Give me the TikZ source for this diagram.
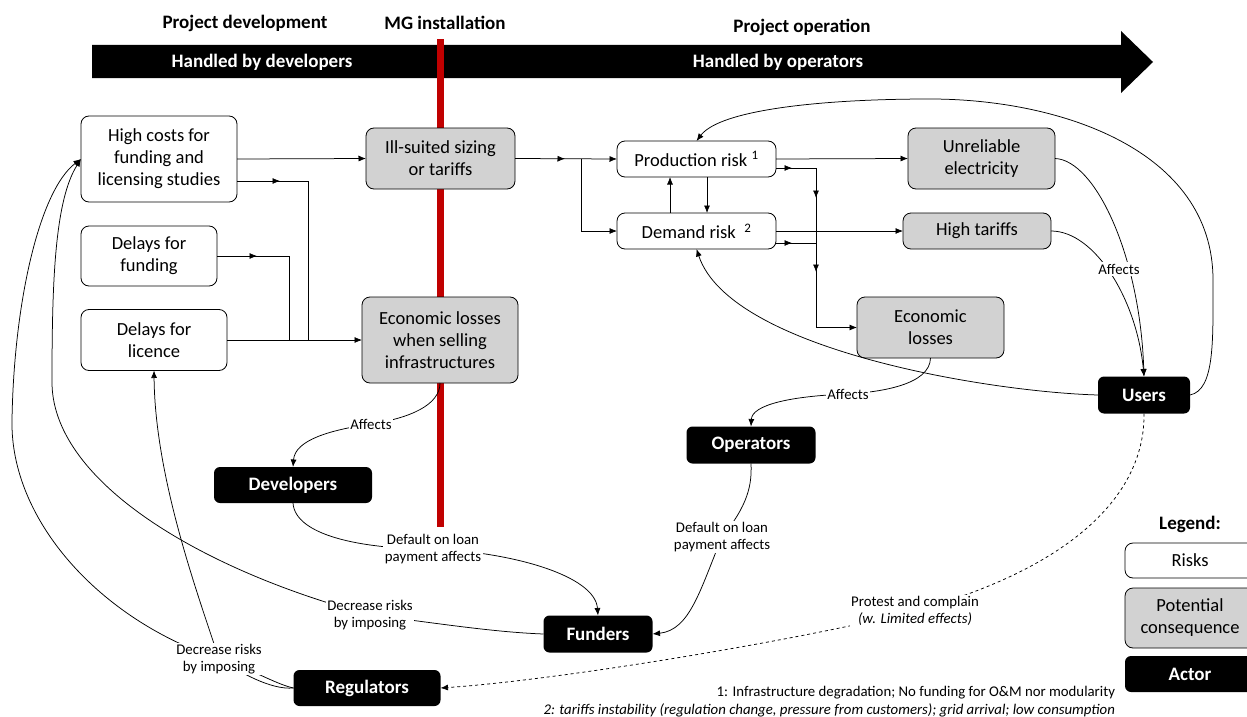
\documentclass[tikz,border=0pt]{standalone}
\usepackage{fontspec}
\setmainfont{Carlito}
\usetikzlibrary{arrows.meta,decorations.markings}
\definecolor{mgred}{RGB}{192,0,0}
\definecolor{consgray}{RGB}{210,210,210}
\begin{document}
\begin{tikzpicture}[x=1pt,y=-1pt,
  every node/.style={inner sep=0pt, outer sep=0pt},
  boxtext/.style={font=\fontsize{18.5}{22}\selectfont, align=center},
  riskbox/.style={boxtext, draw=black, line width=0.8pt, rounded corners=8pt, fill=white},
  consbox/.style={riskbox, fill=consgray},
  actorbox/.style={fill=black, text=white, rounded corners=6pt, font=\bfseries\fontsize{19}{22}\selectfont, align=center},
  lbl/.style={font=\fontsize{14.8}{17}\selectfont, align=center, fill=white, inner sep=1.5pt},
  hdr/.style={font=\bfseries\fontsize{19}{22}\selectfont},
  conn/.style={line width=0.75pt},
  tip/.style={-{Latex[length=7.5pt,width=6pt]}},
  midtip/.style={postaction={decorate}, decoration={markings, mark=at position #1 with {\arrow{Latex[length=7.5pt,width=6pt]}}}}
]
\useasboundingbox (0,0) rectangle (1247,717);

% header band
\fill[black] (92,45) -- (1121,45) -- (1121,31) -- (1153,62) -- (1121,93) -- (1121,78) -- (92,78) -- cycle;
\node[hdr] (t1) at (245,23) {Project development};
\node[hdr] (t2) at (445,23) {MG installation};
\node[hdr] (t3) at (802,27) {Project operation};
\node[hdr, text=white] (b1) at (262,62) {Handled by developers};
\node[hdr, text=white] (b2) at (778,62) {Handled by operators};

% red milestone bar
\fill[mgred] (437,39) rectangle (444,527);

% risk boxes
\node[riskbox, minimum width=156pt, minimum height=86pt] (highcosts) at (159,159) {High costs for\\funding and\\licensing studies};
\node[riskbox, minimum width=136pt, minimum height=60pt] (fundelay) at (149,256) {Delays for\\funding};
\node[riskbox, minimum width=146pt, minimum height=61pt] (licence) at (154,340) {Delays for\\licence};
\node[riskbox, minimum width=159pt, minimum height=36pt] (production) at (696.5,159) {Production risk~\textsuperscript{1}};
\node[riskbox, minimum width=159pt, minimum height=36pt] (demand) at (696.5,231) {Demand risk~~\textsuperscript{2}};

% consequence boxes
\node[consbox, minimum width=149pt, minimum height=61pt] (illsuited) at (440.5,158.5) {Ill-suited sizing\\or tariffs};
\node[consbox, minimum width=156pt, minimum height=86pt] (econsell) at (440,340) {Economic losses\\when selling\\infrastructures};
\node[consbox, minimum width=147pt, minimum height=61pt] (unreliable) at (981.5,158.5) {Unreliable\\electricity};
\node[consbox, minimum width=148pt, minimum height=36pt] (hightariffs) at (977,231) {High tariffs};
\node[consbox, minimum width=147pt, minimum height=61pt] (econloss) at (930.5,327.5) {Economic\\losses};

% actors
\node[actorbox, minimum width=158pt, minimum height=36pt] (developers) at (293,485) {Developers};
\node[actorbox, minimum width=129pt, minimum height=37pt] (operators) at (751,445) {Operators};
\node[actorbox, minimum width=109pt, minimum height=37pt] (funders) at (598,634) {Funders};
\node[actorbox, minimum width=147pt, minimum height=36pt] (regulators) at (367,688) {Regulators};
\node[actorbox, minimum width=92pt, minimum height=37pt] (users) at (1144,395) {Users};

% label anchor coordinates
\coordinate (aff1) at (371,424);
\coordinate (aff2) at (848,394);
\coordinate (aff3) at (1119,269);
\coordinate (dflt1) at (433,549);
\coordinate (dflt2) at (722,537);
\coordinate (decr1) at (370,615);
\coordinate (decr2) at (219,659);
\coordinate (protest) at (915,611);

% orthogonal connectors (left part)
\draw[conn, tip] (highcosts.east) -- (illsuited.west);
\draw[conn, midtip=43pt] ([yshift=-22pt]highcosts.east) -- (308,181) -- (308,340);
\draw[conn, midtip=40pt] (fundelay.east) -- (289,256) -- (289,340);
\draw[conn, tip] (licence.east) -- (econsell.west);

% middle part
\draw[conn, tip, midtip=50pt] (illsuited.east) -- (production.west);
\draw[conn, tip] (581,159) |- (demand.west);
\draw[conn, tip] ([xshift=-26.5pt]demand.north) -- ([xshift=-26.5pt]production.south);
\draw[conn, tip] ([xshift=10.5pt]production.south) -- ([xshift=10.5pt]demand.north);
\draw[conn, tip] (production.east) -- (unreliable.west);
\draw[conn, tip] (demand.east) -- (hightariffs.west);
\draw[conn, tip, postaction={decorate}, decoration={markings,
   mark=at position 16pt with {\arrow{Latex[length=7.5pt,width=6pt]}},
   mark=at position 70pt with {\arrow{Latex[length=7.5pt,width=6pt]}},
   mark=at position 144pt with {\arrow{Latex[length=7.5pt,width=6pt]}}}]
   ([yshift=-9pt]production.east) -- (816,168) -- (816,327.5) -- (econloss.west);
\draw[conn, midtip=16pt] ([yshift=-12pt]demand.east) -- (816,243);

% curved connectors
\draw[conn, tip] (unreliable.east) .. controls (1095,160) and (1140,255) .. (users.north);
\draw[conn, tip] (hightariffs.east) .. controls (1095,231) and (1137,300) .. (users.north);
\draw[conn, tip] (econsell.south) .. controls (440,405) and (410,418) .. (aff1) .. controls (330,430) and (295,440) .. (developers.north);
\draw[conn, tip] (econloss.south) .. controls (930,385) and (880,392) .. (aff2) .. controls (790,396) and (752,405) .. (operators.north);
\draw[conn, tip] (users.west) .. controls (990,392) and (730,350) .. (demand.south);
\draw[conn, tip] (users.east) .. controls (1215,390) and (1213,340) .. (1213,280) .. controls (1213,150) and (1060,99) .. (930,99) .. controls (820,99) and (720,110) .. (production.north);
\draw[conn, tip] (developers.south) .. controls (295,535) and (360,549) .. (dflt1) .. controls (510,552) and (595,575) .. (funders.north);
\draw[conn, tip] (operators.south) .. controls (752,485) and (748,505) .. (dflt2) .. controls (700,590) and (690,630) .. (funders.east);
\draw[conn, tip] (funders.west) .. controls (490,632) and (430,622) .. (decr1) .. controls (200,570) and (50,480) .. (52,380) .. controls (52,280) and (55,200) .. (highcosts.west);
\draw[conn, tip] (regulators.west) .. controls (270,690) and (240,672) .. (decr2) .. controls (100,620) and (10,520) .. (12,420) .. controls (14,300) and (40,190) .. (highcosts.west);
\draw[conn, tip] (regulators.west) .. controls (275,684) and (250,668) .. (decr2) .. controls (200,600) and (155,480) .. (licence.south);
\draw[conn, tip, dashed] (users.south) .. controls (1145,490) and (1080,565) .. (protest) .. controls (800,640) and (560,680) .. (regulators.east);

% labels on connectors
\node[lbl] (aff1lbl) at (aff1) {Affects};
\node[lbl] (aff2lbl) at (aff2) {Affects};
\node[lbl] (aff3lbl) at (aff3) {Affects};
\node[lbl] (dflt1lbl) at (dflt1) {Default on loan\\payment affects};
\node[lbl] (dflt2lbl) at (dflt2) {Default on loan\\payment affects};
\node[lbl] (decr1lbl) at (decr1) {Decrease risks\\by imposing};
\node[lbl] (decr2lbl) at (decr2) {Decrease risks\\by imposing};
\node[lbl] (protestlbl) at (protest) {Protest and complain\\\textit{(w. Limited effects)}};

% legend
\node[font=\bfseries\fontsize{19}{22}\selectfont] (legtitle) at (1190,524) {Legend:};
\node[riskbox, minimum width=130pt, minimum height=35pt] (legrisk) at (1190,560.5) {Risks};
\node[consbox, minimum width=130pt, minimum height=60pt] (legcons) at (1190,618) {Potential\\consequence};
\node[actorbox, minimum width=130pt, minimum height=36pt] (legactor) at (1190,674) {Actor};

% footnotes
\node[anchor=east, font=\fontsize{14.8}{17}\selectfont] (fn1) at (1115,693) {1: Infrastructure degradation; No funding for O\&M nor modularity};
\node[anchor=east, font=\itshape\fontsize{14.8}{17}\selectfont] (fn2) at (1115,710) {2: tariffs instability (regulation change, pressure from customers); grid arrival; low consumption};
\end{tikzpicture}
\end{document}
